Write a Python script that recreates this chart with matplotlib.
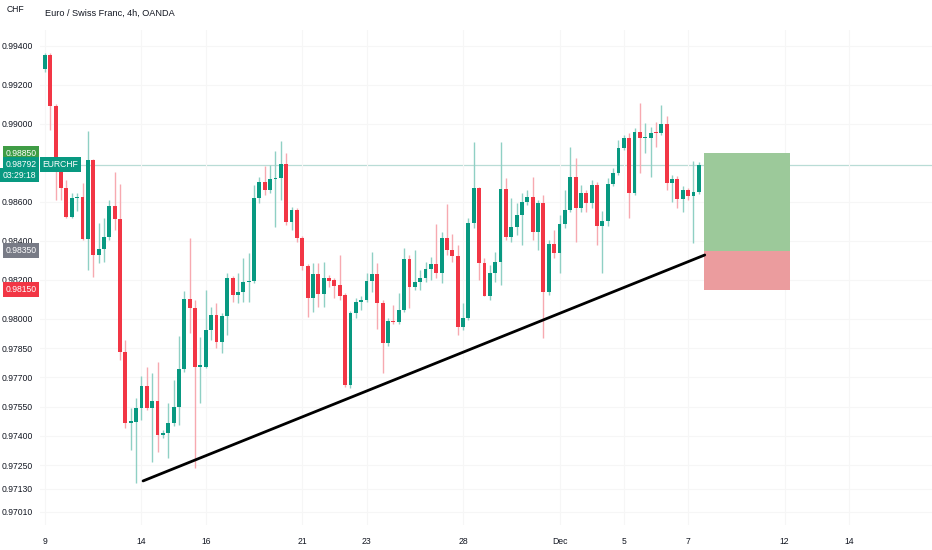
import numpy as np
import matplotlib
matplotlib.use("Agg")
import matplotlib.pyplot as plt
import matplotlib.transforms as mtransforms
from matplotlib.patches import Rectangle

plt.rcParams['font.family'] = ['Liberation Sans', 'DejaVu Sans']

# ==============================================================================
# EURCHF 4h candles, 9 Nov -> 7 Dec (one row per bar: open, high, low, close)
opens = [
    0.99282, 0.99354, 0.99092, 0.98790, 0.98672, 0.98523, 0.98620, 0.98625, 0.98410, 0.98815,
    0.98328, 0.98359, 0.98420, 0.98579, 0.98513, 0.97830, 0.97466, 0.97471, 0.97543, 0.97656,
    0.97543, 0.97579, 0.97404, 0.97415, 0.97466, 0.97548, 0.97743, 0.98102, 0.98056, 0.97753,
    0.97753, 0.97943, 0.98020, 0.97882, 0.98015, 0.98210, 0.98123, 0.98138, 0.98189, 0.98195,
    0.98620, 0.98702, 0.98661, 0.98718, 0.98723, 0.98795, 0.98497, 0.98559, 0.98415, 0.98271,
    0.98107, 0.98230, 0.98128, 0.98210, 0.98200, 0.98174, 0.98123, 0.97661, 0.98030, 0.98087,
    0.98097, 0.98195, 0.98230, 0.98082, 0.97876, 0.97989, 0.97984, 0.98046, 0.98307, 0.98164,
    0.98189, 0.98210, 0.98256, 0.98282, 0.98236, 0.98415, 0.98354, 0.98323, 0.97959, 0.98005,
    0.98492, 0.98672, 0.98287, 0.98118, 0.98236, 0.98292, 0.98666, 0.98420, 0.98471, 0.98533,
    0.98600, 0.98625, 0.98446, 0.98595, 0.98138, 0.98384, 0.98338, 0.98487, 0.98559, 0.98728,
    0.98569, 0.98646, 0.98595, 0.98687, 0.98477, 0.98502, 0.98692, 0.98749, 0.98877, 0.98928,
    0.98646, 0.98959, 0.98928, 0.98928, 0.98959, 0.98954, 0.98999, 0.98697, 0.98718, 0.98615,
    0.98661, 0.98631, 0.98651,
]
highs = [
    0.99364, 0.99364, 0.99102, 0.98815, 0.98713, 0.98646, 0.98646, 0.98697, 0.98964, 0.98820,
    0.98492, 0.98518, 0.98610, 0.98754, 0.98692, 0.97892, 0.97543, 0.97594, 0.97707, 0.97753,
    0.97722, 0.97779, 0.97430, 0.97569, 0.97687, 0.97912, 0.98143, 0.98415, 0.98097, 0.97907,
    0.98148, 0.98061, 0.98082, 0.98030, 0.98236, 0.98220, 0.98236, 0.98313, 0.98338, 0.98687,
    0.98728, 0.98784, 0.98790, 0.98861, 0.98913, 0.98851, 0.98574, 0.98569, 0.98425, 0.98282,
    0.98287, 0.98287, 0.98292, 0.98225, 0.98210, 0.98328, 0.98133, 0.98041, 0.98107, 0.98118,
    0.98236, 0.98343, 0.98287, 0.98097, 0.98005, 0.98071, 0.98133, 0.98364, 0.98328, 0.98354,
    0.98251, 0.98292, 0.98318, 0.98487, 0.98446, 0.98590, 0.98436, 0.98379, 0.98082, 0.98518,
    0.98908, 0.98677, 0.98313, 0.98277, 0.98343, 0.98908, 0.98723, 0.98620, 0.98595, 0.98646,
    0.98661, 0.98728, 0.98610, 0.98636, 0.98405, 0.98456, 0.98533, 0.98661, 0.98882, 0.98826,
    0.98687, 0.98661, 0.98713, 0.98702, 0.98554, 0.98723, 0.98774, 0.98918, 0.98943, 0.98954,
    0.98979, 0.99108, 0.99005, 0.98984, 0.99010, 0.99097, 0.99041, 0.98738, 0.98733, 0.98682,
    0.98672, 0.98810, 0.98805,
]
lows = [
    0.99267, 0.98969, 0.98610, 0.98610, 0.98518, 0.98518, 0.98554, 0.98405, 0.98251, 0.98215,
    0.98287, 0.98292, 0.98405, 0.98456, 0.97789, 0.97440, 0.97328, 0.97158, 0.97481, 0.97533,
    0.97266, 0.97317, 0.97389, 0.97286, 0.97451, 0.97456, 0.97728, 0.97928, 0.97235, 0.97569,
    0.97748, 0.97892, 0.97851, 0.97825, 0.97917, 0.98087, 0.98082, 0.98087, 0.98087, 0.98184,
    0.98595, 0.98636, 0.98646, 0.98471, 0.98610, 0.98482, 0.98456, 0.98395, 0.98251, 0.98010,
    0.98036, 0.98061, 0.98061, 0.98164, 0.98107, 0.98097, 0.97651, 0.97646, 0.98005, 0.98046,
    0.98087, 0.98138, 0.97948, 0.97722, 0.97861, 0.97974, 0.97974, 0.98036, 0.98056, 0.98148,
    0.98148, 0.98189, 0.98200, 0.98210, 0.98184, 0.98328, 0.98292, 0.97917, 0.97943, 0.97994,
    0.98466, 0.98200, 0.98118, 0.98097, 0.98189, 0.98174, 0.98405, 0.98395, 0.98430, 0.98379,
    0.98584, 0.98405, 0.98354, 0.97902, 0.98123, 0.98313, 0.98236, 0.98466, 0.98548, 0.98395,
    0.98548, 0.98548, 0.98569, 0.98379, 0.98236, 0.98477, 0.98682, 0.98738, 0.98866, 0.98518,
    0.98636, 0.98749, 0.98851, 0.98728, 0.98882, 0.98943, 0.98661, 0.98600, 0.98569, 0.98548,
    0.98610, 0.98389, 0.98641,
]
closes = [
    0.99354, 0.99092, 0.98790, 0.98672, 0.98523, 0.98620, 0.98625, 0.98410, 0.98815, 0.98328,
    0.98359, 0.98420, 0.98579, 0.98513, 0.97830, 0.97466, 0.97476, 0.97543, 0.97656, 0.97543,
    0.97579, 0.97404, 0.97415, 0.97466, 0.97548, 0.97743, 0.98102, 0.98056, 0.97753, 0.97764,
    0.97943, 0.98020, 0.97882, 0.98015, 0.98210, 0.98123, 0.98138, 0.98189, 0.98195, 0.98620,
    0.98702, 0.98661, 0.98718, 0.98723, 0.98795, 0.98497, 0.98559, 0.98415, 0.98271, 0.98107,
    0.98230, 0.98128, 0.98210, 0.98195, 0.98169, 0.98118, 0.97661, 0.98030, 0.98087, 0.98097,
    0.98195, 0.98230, 0.98082, 0.97876, 0.97989, 0.97984, 0.98046, 0.98307, 0.98164, 0.98189,
    0.98210, 0.98256, 0.98282, 0.98236, 0.98415, 0.98354, 0.98323, 0.97959, 0.98005, 0.98492,
    0.98672, 0.98287, 0.98118, 0.98236, 0.98292, 0.98666, 0.98420, 0.98471, 0.98533, 0.98600,
    0.98625, 0.98446, 0.98595, 0.98138, 0.98384, 0.98338, 0.98487, 0.98559, 0.98728, 0.98569,
    0.98646, 0.98595, 0.98687, 0.98477, 0.98502, 0.98692, 0.98749, 0.98877, 0.98928, 0.98646,
    0.98959, 0.98928, 0.98933, 0.98954, 0.98954, 0.98999, 0.98697, 0.98718, 0.98615, 0.98661,
    0.98631, 0.98651, 0.98792,
]

# day labels (bar index of the first 4h bar of that day)
day_ticks = [0, 18, 30, 48, 60, 78, 96, 108, 120, 138, 150]
day_labels = ['9', '14', '16', '21', '23', '28', 'Dec', '5', '7', '12', '14']

price_ticks = [0.99400, 0.99200, 0.99000, 0.98600, 0.98400, 0.98200, 0.98000,
               0.97850, 0.97700, 0.97550, 0.97400, 0.97250, 0.97130, 0.97010]

# drawings
trend_x = [18.3, 123.1]
trend_y = [0.97169, 0.98328]
last_price = 0.98792
countdown = '03:29:18'
take_profit = 0.98850
entry = 0.98350
stop_loss = 0.98150
pos_x = [123.0, 139.0]

# ==============================================================================
UP = '#089981'
DOWN = '#f23645'
FS = 6.2

fig = plt.figure(figsize=(9.32, 5.5), dpi=100)
ax = fig.add_axes([40 / 932, 25 / 550, 892 / 932, 495 / 550])

o = np.array(opens)
h = np.array(highs)
l = np.array(lows)
c = np.array(closes)
x = np.arange(len(o))
up = c >= o
cols = np.where(up, UP, DOWN)
wick_cols = np.where(up, '#8fd0c4', '#f7a9b0')

ax.vlines(x, l, h, colors=wick_cols, linewidth=1.0, zorder=2)
body_lo = np.minimum(o, c)
body_h = np.maximum(np.abs(c - o), 0.00004)
ax.bar(x, body_h, bottom=body_lo, width=0.72, color=cols, linewidth=0, zorder=3)

# last price line
ax.axhline(last_price, color='#b9dcd6', linewidth=0.9, zorder=1)

# long position box
ax.add_patch(Rectangle((pos_x[0], entry), pos_x[1] - pos_x[0], take_profit - entry,
                       facecolor='#9cc99a', edgecolor='none', zorder=4))
ax.add_patch(Rectangle((pos_x[0], stop_loss), pos_x[1] - pos_x[0], entry - stop_loss,
                       facecolor='#eb9c9e', edgecolor='none', zorder=4))

# trend line
ax.plot(trend_x, trend_y, color='black', linewidth=2.0, solid_capstyle='round', zorder=5)

ax.set_xlim(-0.93, 165.5)
ax.set_ylim(0.96943, 0.99482)
ax.set_xticks(day_ticks)
ax.set_xticklabels(day_labels)
ax.set_yticks(price_ticks)
ax.set_yticklabels(['%.5f' % p for p in price_ticks])
ax.tick_params(axis='both', length=0, labelsize=FS, colors='#131722')
ax.tick_params(axis='y', pad=5)
ax.tick_params(axis='x', pad=9)
ax.grid(True, color='#f6f6f6', linewidth=0.8, zorder=0)
for s in ax.spines.values():
    s.set_visible(False)

# price labels on the scale
trans = mtransforms.blended_transform_factory(ax.transAxes, ax.transData)
box = dict(boxstyle='square,pad=0.32', edgecolor='none')


def price_tag(price, text, bg, dy=0, z=20):
    ax.annotate(text, xy=(-0.004, price), xycoords=trans, xytext=(0, dy),
                textcoords='offset points', ha='right', va='center',
                fontsize=FS, color='white', zorder=z, annotation_clip=False,
                bbox=dict(box, facecolor=bg))


price_tag(take_profit, '%.5f' % take_profit, '#3f9c45')
price_tag(entry, '%.5f' % entry, '#787b86')
price_tag(stop_loss, '%.5f' % stop_loss, DOWN)
price_tag(last_price, countdown, UP, dy=-7.6, z=21)
price_tag(last_price, '%.5f' % last_price, UP, z=22)
ax.annotate('EURCHF', xy=(0.003, last_price), xycoords=trans, ha='left', va='center',
            fontsize=FS, color='white', zorder=21, annotation_clip=False,
            bbox=dict(box, facecolor=UP))

fig.text(7 / 932, 1 - 10 / 550, 'CHF', fontsize=FS, color='#131722', va='center')
fig.text(45 / 932, 1 - 13 / 550, 'Euro / Swiss Franc, 4h, OANDA', fontsize=6.6,
         color='#131722', va='center')

fig.savefig('out.png', dpi=100)
